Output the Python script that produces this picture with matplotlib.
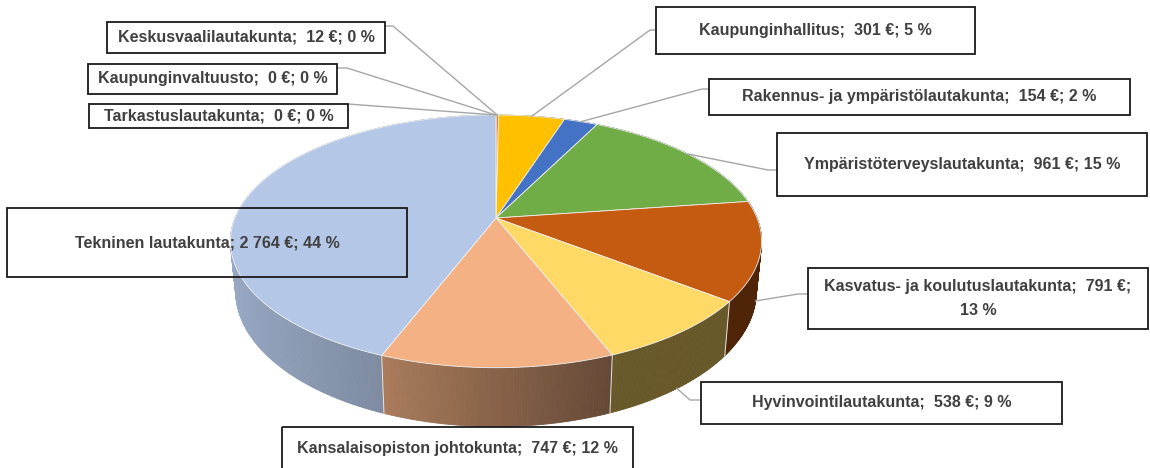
import numpy as np
import matplotlib
matplotlib.use('Agg')
import matplotlib.pyplot as plt
import matplotlib.colors as mcolors
from matplotlib.patches import Rectangle

# slices in drawing order, clockwise from 12 o'clock
categories = ['Keskusvaalilautakunta', 'Kaupunginhallitus',
              'Rakennus- ja ympäristölautakunta', 'Ympäristöterveyslautakunta',
              'Kasvatus- ja koulutuslautakunta', 'Hyvinvointilautakunta',
              'Kansalaisopiston johtokunta', 'Tekninen lautakunta',
              'Tarkastuslautakunta', 'Kaupunginvaltuusto']
values = [12, 301, 154, 961, 791, 538, 747, 2764, 0, 0]
colors = ['#ED7D31', '#FFC000', '#4472C4', '#70AD47', '#C55A11',
          '#FFD966', '#F4B183', '#B4C7E7', '#A5A5A5', '#5B9BD5']

total = sum(values)
percents = [round(100 * v / total) for v in values]

# label boxes (pixel coords): box, leader elbow, leader end at box, anchor depth
layout = {
    'Keskusvaalilautakunta': ((107, 22, 385, 53), (393, 26), (385, 26), 0),
    'Kaupunginvaltuusto': ((88, 64, 337, 94), (347, 68), (337, 68), 0),
    'Tarkastuslautakunta': ((89, 104, 348, 128), (348, 104), (348, 104), 0),
    'Kaupunginhallitus': ((656, 7, 975, 54), (650, 30), (656, 30), 0),
    'Rakennus- ja ympäristölautakunta': ((709, 79, 1130, 115), (702, 89), (709, 89), 0),
    'Ympäristöterveyslautakunta': ((777, 133, 1147, 196), (768, 170), (777, 170), 0),
    'Kasvatus- ja koulutuslautakunta': ((808, 268, 1148, 329), (798, 294), (808, 294), 1),
    'Hyvinvointilautakunta': ((701, 382, 1062, 424), (690, 400), (701, 400), 1),
    'Kansalaisopiston johtokunta': ((282, 427, 633, 475), None, None, 0),
    'Tekninen lautakunta': ((7, 208, 407, 277), None, None, 0),
}

# 3d pie geometry (pixels)
CX, CY = 496, 218
RX, RY = 261, 122
K = 0.185      # perspective
H = 48         # thickness
SX = 0.98

SHADE_U = [-1.0, -0.37, 0.37, 1.0]
SHADE_F = [0.86, 0.70, 0.41, 0.40]

FONT = ['Liberation Sans', 'DejaVu Sans']
FS = 11.5


def proj(theta, z=0.0):
    t = np.radians(theta)
    u, v = np.sin(t), np.cos(t)
    w = 1 + K * v
    x = CX + RX * u / w * (1 - (1 - SX) * z)
    y = CY - RY * v / w + z * H / w
    return x, y


fig = plt.figure(figsize=(11.5, 4.68), dpi=100)
ax = fig.add_axes([0, 0, 1, 1])
ax.set_xlim(0, 1150)
ax.set_ylim(468, 0)
ax.axis('off')

edges = np.concatenate([[0], np.cumsum(values)]) / total * 360

# side of the pie, thin strips painted back to front
strips = []
for i, val in enumerate(values):
    a0, a1 = edges[i], edges[i + 1]
    if a1 - a0 <= 0:
        continue
    n = max(2, int(np.ceil((a1 - a0) / 0.5)))
    th = np.linspace(a0, a1, n + 1)
    base = np.array(mcolors.to_rgb(colors[i]))
    for ta, tb in zip(th[:-1], th[1:]):
        tm = 0.5 * (ta + tb)
        shade = np.interp(np.sin(np.radians(tm)), SHADE_U, SHADE_F)
        xa, ya = proj(ta)
        xb, yb = proj(tb)
        xa2, ya2 = proj(ta, 1)
        xb2, yb2 = proj(tb, 1)
        strips.append((np.cos(np.radians(tm)), [xa, xb, xb2, xa2],
                       [ya, yb, yb2, ya2], np.clip(base * shade, 0, 1)))
strips.sort(key=lambda s: -s[0])
for _, xs, ys, c in strips:
    ax.fill(xs, ys, facecolor=c, edgecolor=c, linewidth=0.6, zorder=1)

for e in edges:
    if np.cos(np.radians(e)) < 0:
        x0, y0 = proj(e)
        x1, y1 = proj(e, 1)
        ax.plot([x0, x1], [y0, y1], color='#e6e6e6', lw=0.7, zorder=1.5)

# top face
for i, val in enumerate(values):
    a0, a1 = edges[i], edges[i + 1]
    if a1 - a0 <= 0:
        continue
    th = np.linspace(a0, a1, max(3, int((a1 - a0) * 2)))
    rx, ry = proj(th)
    ax.fill(np.r_[CX, rx], np.r_[CY, ry], facecolor=colors[i],
            edgecolor='#f0f0f0', linewidth=0.6, zorder=2)

# labels
for i, name in enumerate(categories):
    box, elbow, end, z = layout[name]
    amount = f'{values[i]:,}'.replace(',', ' ')
    if name == 'Tekninen lautakunta':
        label = f'{name}; {amount} €; {percents[i]} %'
    elif name == 'Kasvatus- ja koulutuslautakunta':
        label = f'{name};  {amount} €;\n{percents[i]} %'
    else:
        label = f'{name};  {amount} €; {percents[i]} %'
    if elbow is not None:
        px, py = proj(0.5 * (edges[i] + edges[i + 1]), z)
        ax.plot([px, elbow[0], end[0]], [py, elbow[1], end[1]],
                color='#a6a6a6', lw=1.0, zorder=3)
    x0, y0, x1, y1 = box
    ax.add_patch(Rectangle((x0, y0), x1 - x0, y1 - y0, fill=False,
                           edgecolor='#1a1a1a', linewidth=1.3, zorder=4))
    ty = 0.5 * (y0 + y1)
    if name == 'Kansalaisopiston johtokunta':
        ty = 448
    ax.text(0.5 * (x0 + x1), ty, label, ha='center', va='center',
            fontsize=FS, fontweight='bold', color='#404040', family=FONT,
            linespacing=1.8, zorder=5)

fig.savefig('out.png', dpi=100)
